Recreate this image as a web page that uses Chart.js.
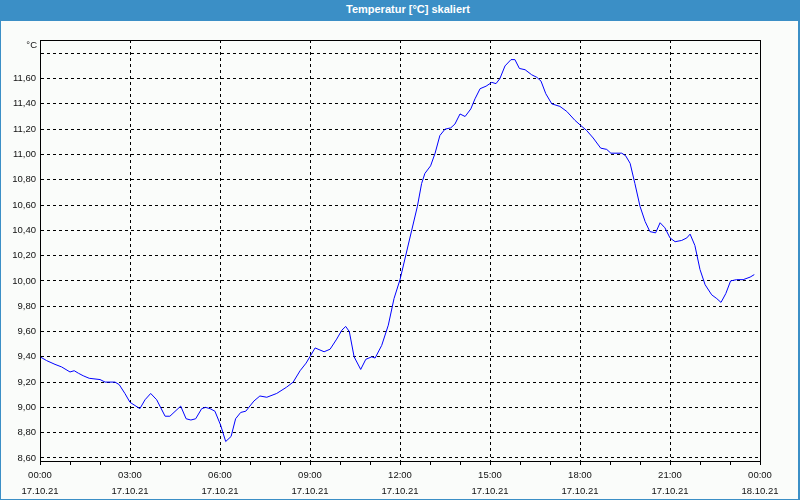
<!DOCTYPE html>
<html>
<head>
<meta charset="utf-8">
<script src="https://cdn.jsdelivr.net/npm/chart.js@4"></script>
<style>
  html, body { margin: 0; padding: 0; }
  body { width: 800px; height: 500px; background: #3b8fc6; position: relative; overflow: hidden; }
  #title {
    position: absolute; left: 0; top: 0; width: 784px; height: 21px; padding-left: 16px;
    color: #fff; font: bold 11px "Liberation Sans", sans-serif;
    text-align: center; line-height: 19px;
  }
  #frame {
    position: absolute; left: 1px; top: 21px; width: 797px; height: 478px;
    background: #fafcfa;
  }
</style>
</head>
<body>
<div id="title">Temperatur [°C] skaliert</div>
<div id="frame"><canvas id="chart" width="797" height="478"></canvas></div>
<script>
// hours since 17.10.21 00:00
const hours = [
  0.00, 0.22, 0.50, 0.72, 1.00, 1.14, 1.28, 1.44, 1.64, 2.00, 2.17, 2.50, 2.64, 2.83,
  3.00, 3.33, 3.50, 3.69, 3.89, 4.17, 4.33, 4.69, 4.87, 5.03, 5.19, 5.39, 5.52, 5.67, 5.83,
  6.02, 6.19, 6.37, 6.52, 6.69, 6.86, 7.13, 7.33, 7.56, 7.89, 8.22, 8.44, 8.67, 8.87,
  9.17, 9.47, 9.67, 9.89, 10.06, 10.19, 10.31, 10.47, 10.69, 10.86, 11.06, 11.17, 11.39, 11.61, 11.80,
  12.00, 12.39, 12.58, 12.72, 12.83, 13.02, 13.17, 13.33, 13.50, 13.69, 13.83, 14.00, 14.17, 14.36, 14.50, 14.67, 14.87,
  15.06, 15.20, 15.33, 15.50, 15.70, 15.83, 15.98, 16.17, 16.39, 16.56, 16.70, 16.86, 17.06, 17.33, 17.56, 17.83,
  18.02, 18.22, 18.44, 18.69, 18.89, 19.03, 19.39, 19.52, 19.67, 19.83, 20.00, 20.17, 20.33, 20.52, 20.67, 20.83,
  21.00, 21.17, 21.39, 21.56, 21.67, 21.83, 22.00, 22.17, 22.39, 22.56, 22.70, 22.86, 23.02, 23.22, 23.44, 23.67, 23.81
];
const temps = [
  9.40, 9.37, 9.34, 9.32, 9.28, 9.29, 9.27, 9.25, 9.23, 9.22, 9.20, 9.20, 9.18, 9.11,
  9.04, 8.99, 9.06, 9.11, 9.06, 8.93, 8.93, 9.01, 8.91, 8.90, 8.91, 8.99, 9.00, 8.99, 8.97,
  8.86, 8.73, 8.77, 8.91, 8.96, 8.97, 9.05, 9.09, 9.08, 9.11, 9.16, 9.20, 9.29, 9.35,
  9.47, 9.44, 9.46, 9.54, 9.61, 9.64, 9.60, 9.40, 9.30, 9.38, 9.40, 9.39, 9.49, 9.65, 9.86,
  10.01, 10.40, 10.59, 10.77, 10.85, 10.91, 11.01, 11.15, 11.20, 11.21, 11.24, 11.32, 11.30, 11.36, 11.44, 11.52, 11.54,
  11.57, 11.56, 11.60, 11.70, 11.75, 11.75, 11.68, 11.67, 11.63, 11.61, 11.58, 11.48, 11.40, 11.38, 11.34, 11.27,
  11.23, 11.19, 11.13, 11.05, 11.04, 11.01, 11.01, 10.99, 10.93, 10.77, 10.59, 10.47, 10.39, 10.38, 10.46, 10.42,
  10.34, 10.31, 10.32, 10.34, 10.37, 10.28, 10.09, 9.97, 9.89, 9.86, 9.83, 9.90, 10.00, 10.01, 10.01, 10.03, 10.05
];

const yTicks = [8.6, 8.8, 9.0, 9.2, 9.4, 9.6, 9.8, 10.0, 10.2, 10.4, 10.6, 10.8, 11.0, 11.2, 11.4, 11.6, 11.8];
const xTimes = ["00:00", "03:00", "06:00", "09:00", "12:00", "15:00", "18:00", "21:00", "00:00"];
const xDates = ["17.10.21", "17.10.21", "17.10.21", "17.10.21", "17.10.21", "17.10.21", "17.10.21", "17.10.21", "18.10.21"];
const unitLabel = "°C";

const points = hours.map((h, i) => ({ x: h, y: temps[i] }));
const tickFont = { family: "Liberation Sans", size: 9.5, lineHeight: 16 / 9.5 };

// plot box and the unit text
const boxPlugin = {
  id: "box",
  afterDraw(chart) {
    const ctx = chart.ctx;
    const a = chart.chartArea;
    ctx.save();
    ctx.strokeStyle = "#000";
    ctx.lineWidth = 1;
    ctx.strokeRect(Math.round(a.left) + 0.5, Math.round(a.top) + 0.5,
      Math.round(a.right - a.left), Math.round(a.bottom - a.top));
    ctx.fillStyle = "#111";
    ctx.font = "9.5px 'Liberation Sans'";
    ctx.textAlign = "right";
    ctx.textBaseline = "middle";
    ctx.fillText(unitLabel, a.left - 3, a.top + 5);
    ctx.restore();
  }
};

new Chart(document.getElementById("chart"), {
  type: "line",
  data: {
    datasets: [{
      data: points,
      borderColor: "#0000ff",
      borderWidth: 1,
      pointRadius: 0,
      tension: 0,
      fill: false
    }]
  },
  options: {
    responsive: false,
    animation: false,
    events: [],
    layout: { padding: { left: 0, top: 19, right: 38, bottom: 0 } },
    plugins: { legend: { display: false }, tooltip: { enabled: false } },
    scales: {
      x: {
        type: "linear",
        min: 0,
        max: 24,
        afterBuildTicks(scale) {
          const t = [];
          for (let h = 0; h <= 24; h++) t.push({ value: h });
          scale.ticks = t;
        },
        afterFit(scale) { scale.height = 38; },
        grid: {
          color: (c) => (c.tick && c.tick.value % 3 === 0 && c.tick.value > 0 && c.tick.value < 24) ? "#000" : "rgba(0,0,0,0)",
          tickColor: "#000",
          tickLength: 4,
          drawOnChartArea: true
        },
        border: { display: true, color: "#000", dash: [3, 3] },
        ticks: {
          autoSkip: false,
          maxRotation: 0,
          padding: 2,
          color: "#111",
          font: tickFont,
          callback: (v) => (v % 3 === 0 ? [xTimes[v / 3], xDates[v / 3]] : "")
        }
      },
      y: {
        min: 8.576,
        max: 11.905,
        afterBuildTicks(scale) {
          scale.ticks = yTicks.map((v) => ({ value: v }));
        },
        afterFit(scale) { scale.width = 39; },
        grid: { color: "#000", drawTicks: false },
        border: { display: true, color: "#000", dash: [3, 3] },
        ticks: {
          padding: 4,
          color: "#111",
          font: { family: "Liberation Sans", size: 9.5 },
          callback: (v) => (v === 11.8 ? "" : v.toFixed(2).replace(".", ","))
        }
      }
    }
  },
  plugins: [boxPlugin]
});
</script>
</body>
</html>
